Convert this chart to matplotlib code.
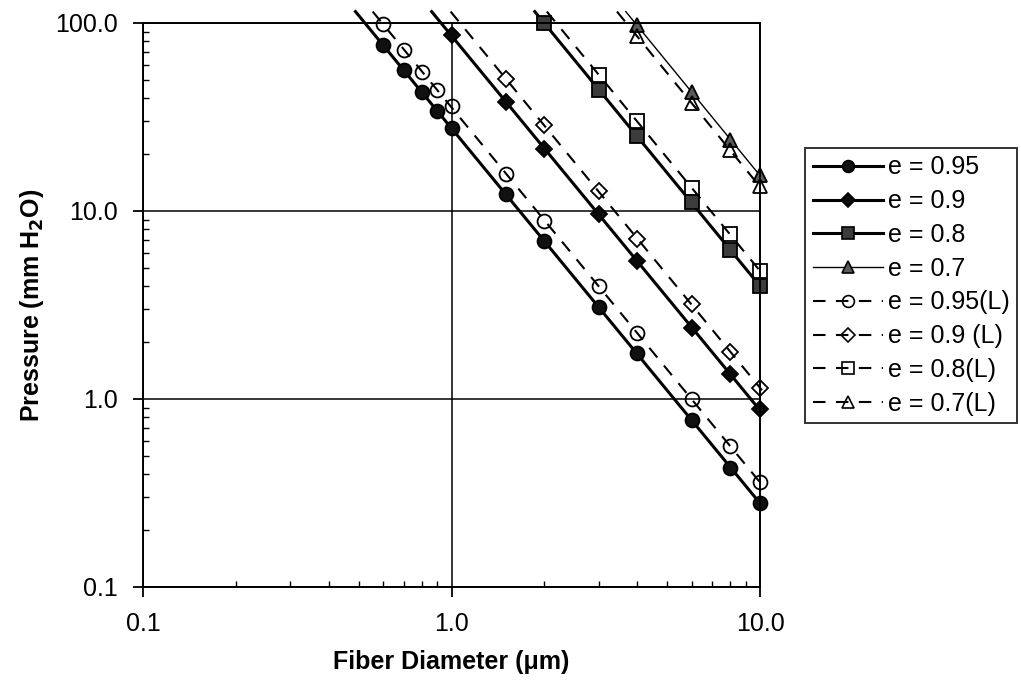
import numpy as np
import matplotlib
matplotlib.use("Agg")
import matplotlib.pyplot as plt
from matplotlib.ticker import FixedLocator, NullFormatter, LogLocator

plt.rcParams["font.family"] = ["Liberation Sans", "DejaVu Sans"]

# ---- data (fiber diameter in um, pressure in mm H2O) ----
d_095 = [0.6, 0.7, 0.8, 0.9, 1.0, 1.5, 2, 3, 4, 6, 8, 10]
p_095 = [76, 56, 43, 34, 27.5, 12.3, 6.9, 3.1, 1.75, 0.77, 0.43, 0.28]

d_090 = [1.0, 1.5, 2, 3, 4, 6, 8, 10]
p_090 = [86, 38, 21.5, 9.6, 5.4, 2.4, 1.35, 0.88]

d_080 = [2, 3, 4, 6, 8, 10]
p_080 = [100, 44, 25, 11.1, 6.2, 4.0]

d_070 = [4, 6, 8, 10]
p_070 = [97, 43, 24, 15.5]

d_095L = [0.6, 0.7, 0.8, 0.9, 1.0, 1.5, 2, 3, 4, 6, 8, 10]
p_095L = [99, 72, 55, 44, 36, 15.8, 8.9, 4.0, 2.25, 1.0, 0.56, 0.36]

d_090L = [1.5, 2, 3, 4, 6, 8, 10]
p_090L = [50.5, 28.5, 12.7, 7.1, 3.2, 1.78, 1.15]

d_080L = [3, 4, 6, 8, 10]
p_080L = [53, 30, 13.3, 7.5, 4.8]

d_070L = [4, 6, 8, 10]
p_070L = [85, 37.5, 21, 13.5]

TREND_TOP = 115   # trendlines run a bit past the top of the plot
DASH = (0, (6, 5))

series = [
    # label, x, y, marker, face, line style, line width
    ("e = 0.95", d_095, p_095, "o", "#111111", "-", 2.2),
    ("e = 0.9", d_090, p_090, "D", "#0a0a0a", "-", 2.2),
    ("e = 0.8", d_080, p_080, "s", "#3c3c3c", "-", 2.2),
    ("e = 0.7", d_070, p_070, "^", "#5a5a5a", "-", 1.0),
    ("e = 0.95(L)", d_095L, p_095L, "o", "none", DASH, 1.5),
    ("e = 0.9 (L)", d_090L, p_090L, "D", "none", DASH, 1.5),
    ("e = 0.8(L)", d_080L, p_080L, "s", "none", DASH, 1.5),
    ("e = 0.7(L)", d_070L, p_070L, "^", "none", DASH, 1.5),
]

fig = plt.figure(figsize=(10.21, 6.81), dpi=100)
ax = fig.add_axes([143 / 1021, 94 / 681, 617 / 1021, 564 / 681])
ax.set_xscale("log")
ax.set_yscale("log")

for label, x, y, mk, face, ls, lw in series:
    # power-law trendline through the points, like the spreadsheet did
    k, b = np.polyfit(np.log10(x), np.log10(y), 1)
    x_lo = 10 ** ((np.log10(TREND_TOP) - b) / k)
    xt = np.array([x_lo, 10.15])
    ax.plot(xt, 10 ** (b + k * np.log10(xt)), color="black", ls=ls, lw=lw,
            clip_on=False)
    ms = 8.5 if mk == "D" else 10
    ax.plot(x, y, ls="none", marker=mk, ms=ms, mfc=face, mec="black",
            mew=1.3, clip_on=False)
    # proxy for the legend
    ax.plot([], [], color="black", ls=ls, lw=lw, marker=mk, ms=ms * 0.85,
            mfc=face, mec="black", mew=1.2, label=label)

ax.set_xlim(0.1, 10)
ax.set_ylim(0.1, 100)
ax.xaxis.set_major_locator(FixedLocator([0.1, 1, 10]))
ax.yaxis.set_major_locator(FixedLocator([0.1, 1, 10, 100]))
ax.set_xticklabels(["0.1", "1.0", "10.0"])
ax.set_yticklabels(["0.1", "1.0", "10.0", "100.0"])
ax.xaxis.set_minor_locator(LogLocator(base=10, subs=np.arange(2, 10)))
ax.yaxis.set_minor_locator(LogLocator(base=10, subs=np.arange(2, 10)))
ax.xaxis.set_minor_formatter(NullFormatter())
ax.yaxis.set_minor_formatter(NullFormatter())
ax.tick_params(which="major", direction="out", length=7, width=1.3,
               labelsize=18, pad=11)
ax.tick_params(which="minor", direction="in", length=4, width=1.0)
ax.grid(which="major", color="black", lw=1.1)
for sp in ax.spines.values():
    sp.set_linewidth(1.4)

ax.set_xlabel("Fiber Diameter (\u03bcm)", fontsize=18, fontweight="bold",
              labelpad=10)
ax.set_ylabel("Pressure (mm H$_\\mathbf{2}$O)", fontsize=18,
              fontweight="bold", labelpad=7)

leg = fig.legend(loc="upper left", bbox_to_anchor=(805 / 1021, 1 - 148 / 681),
                 fontsize=18, frameon=True, fancybox=False,
                 edgecolor="black", handlelength=2.8, handletextpad=0.2,
                 labelspacing=0.39, borderpad=0.3, borderaxespad=0)
leg.get_frame().set_linewidth(1.4)

fig.savefig("out.png", dpi=100)
